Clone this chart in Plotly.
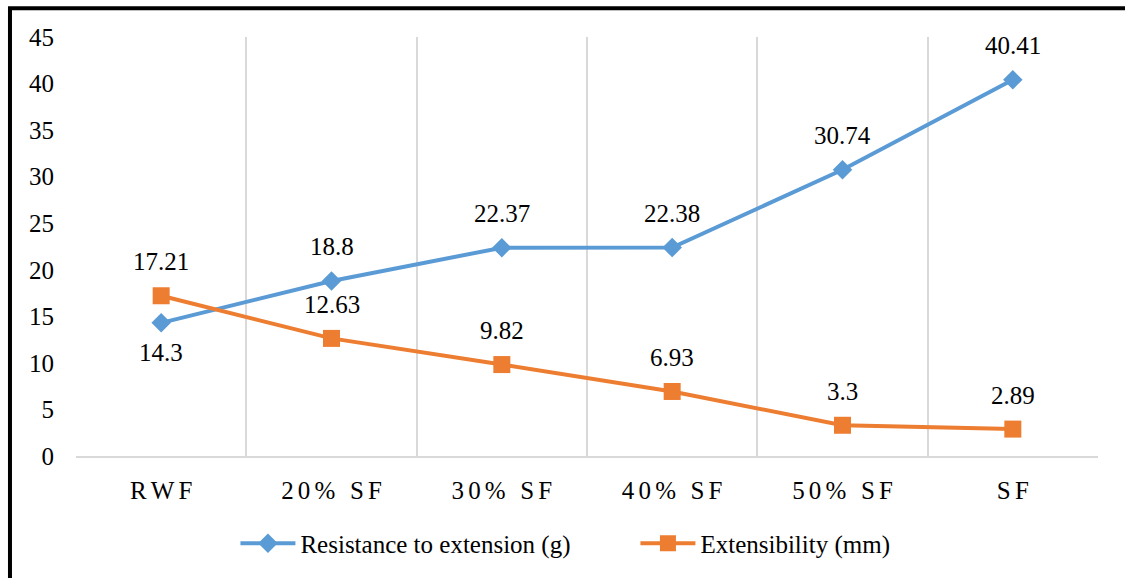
import plotly.graph_objects as go

# Dough extensograph results for flour blends
categories = ["RWF", "20% SF", "30% SF", "40% SF", "50% SF", "SF"]
resistance = [14.3, 18.8, 22.37, 22.38, 30.74, 40.41]
extensibility = [17.21, 12.63, 9.82, 6.93, 3.3, 2.89]
y_ticks = [0, 5, 10, 15, 20, 25, 30, 35, 40, 45]

FONT = "'Liberation Serif', 'Times New Roman', Times, serif"
BLUE = "#5B9BD5"
ORANGE = "#ED7D31"
GRID = "#D9D9D9"
SP = "\u2006"  # narrow spacing between letters of the category labels


def spaced(label):
    return SP.join(label)


tick_text = [spaced(c) for c in categories]

fig = go.Figure()
fig.add_trace(go.Scatter(
    x=tick_text, y=resistance, name="Resistance to extension (g)",
    mode="lines+markers",
    line=dict(color=BLUE, width=4),
    marker=dict(symbol="diamond", size=15, color=BLUE),
))
fig.add_trace(go.Scatter(
    x=tick_text, y=extensibility, name="Extensibility (mm)",
    mode="lines+markers",
    line=dict(color=ORANGE, width=4),
    marker=dict(symbol="square", size=17, color=ORANGE),
))

# value labels: above the markers, except the first resistance point (below)
annotations = []
for i, (cat, v) in enumerate(zip(tick_text, resistance)):
    annotations.append(dict(x=cat, y=v, text=f"{v:g}", showarrow=False,
                            yshift=-30 if i == 0 else 34,
                            font=dict(family=FONT, size=25, color="#000000")))
for cat, v in zip(tick_text, extensibility):
    annotations.append(dict(x=cat, y=v, text=f"{v:g}", showarrow=False,
                            yshift=34,
                            font=dict(family=FONT, size=25, color="#000000")))

fig.update_layout(
    width=1125, height=578,
    margin=dict(l=76, r=27, t=37, b=120),
    paper_bgcolor="white", plot_bgcolor="white",
    font=dict(family=FONT, size=25, color="#000000"),
    showlegend=True,
    legend=dict(orientation="h", x=0.156, xanchor="left", y=-0.209,
                yanchor="middle", itemwidth=55, entrywidth=330,
                font=dict(family=FONT, size=25, color="#000000"),
                bgcolor="rgba(0,0,0,0)"),
    annotations=annotations,
    shapes=[dict(type="rect", xref="paper", yref="paper",
                 x0=-0.0646, x1=1.05, y0=-0.35, y1=1.0689,
                 line=dict(color="black", width=4), layer="above")],
)
fig.update_xaxes(
    type="category", tickson="boundaries",
    showgrid=True, gridcolor=GRID, gridwidth=1.5,
    showline=True, linecolor=GRID, linewidth=2,
    ticks="", ticklabelstandoff=11,
    range=[-0.5, len(categories) - 0.5],
    tickfont=dict(family=FONT, size=25, color="#000000"),
)
fig.update_yaxes(
    range=[0, 45], tickvals=y_ticks, showgrid=False, zeroline=False,
    showline=False, ticks="", ticklabelstandoff=21,
    tickfont=dict(family=FONT, size=25, color="#000000"),
)

fig.write_html("out.html")
